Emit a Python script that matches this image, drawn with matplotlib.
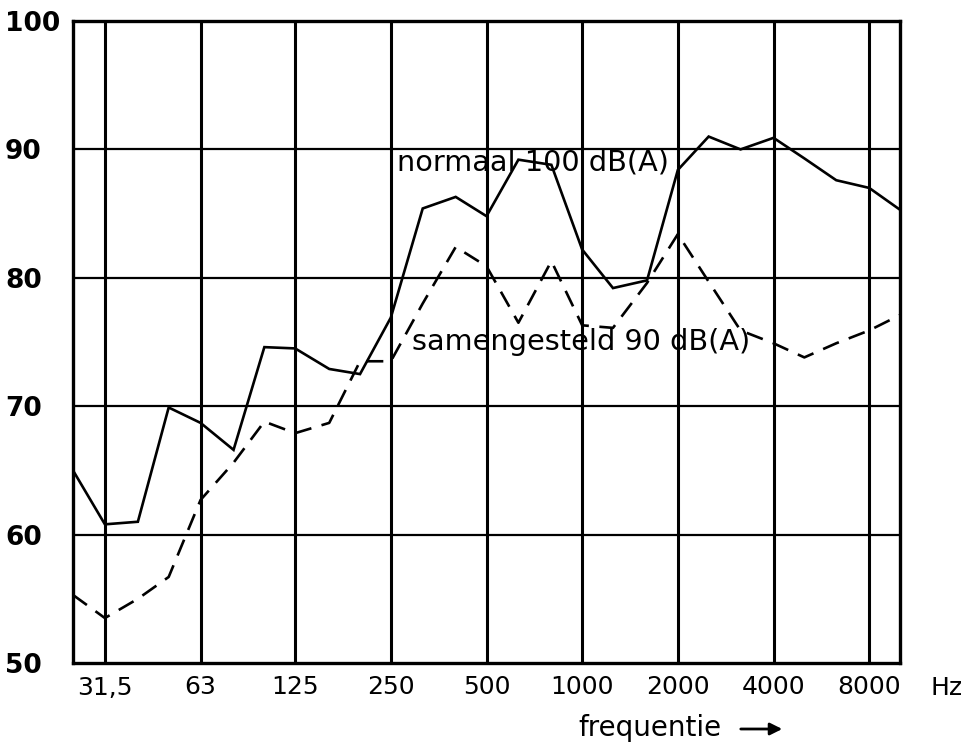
import matplotlib
matplotlib.use("Agg")
import matplotlib.pyplot as plt
import numpy as np

# third-octave band centre frequencies (Hz)
freqs = [25, 31.5, 40, 50, 63, 80, 100, 125, 160, 200, 250, 315, 400, 500,
         630, 800, 1000, 1250, 1600, 2000, 2500, 3150, 4000, 5000, 6300, 8000, 10000]

# normaal 100 dB(A) (solid)
normaal = [65.0, 60.8, 61.0, 69.9, 68.7, 66.6, 74.6, 74.5, 72.9, 72.5, 76.9,
           85.4, 86.3, 84.8, 89.2, 88.8, 82.2, 79.2, 79.8, 88.4, 91.0, 90.0,
           90.9, 89.3, 87.6, 87.0, 85.3]

# samengesteld 90 dB(A) (dashed)
samengesteld = [55.3, 53.5, 55.0, 56.7, 62.7, 65.6, 68.8, 67.9, 68.7, 73.5, 73.5,
                78.0, 82.4, 80.9, 76.5, 81.3, 76.3, 76.1, 79.6, 83.4, 79.7, 75.9,
                74.9, 73.8, 74.9, 75.9, 77.1]

octave_ticks = [31.5, 63, 125, 250, 500, 1000, 2000, 4000, 8000]
octave_labels = ["31,5", "63", "125", "250", "500", "1000", "2000", "4000", "8000"]
y_ticks = [50, 60, 70, 80, 90, 100]

plt.rcParams['font.family'] = ['DejaVu Sans']

fig = plt.figure(figsize=(9.72, 7.42), dpi=100)
ax = fig.add_axes([73/972, 1-663/742, (900-73)/972, (663-21)/742])

ax.set_xscale('log')
ax.set_xlim(25, 10000)
ax.set_ylim(50, 100)

# grid
for f in octave_ticks:
    ax.axvline(f, color='black', lw=2.2, zorder=1)
for y in y_ticks[1:-1]:
    ax.axhline(y, color='black', lw=1.6, zorder=1)

ax.plot(freqs, normaal, color='black', lw=1.9, zorder=3, solid_joinstyle='miter')
ax.plot(freqs, samengesteld, color='black', lw=1.9, zorder=3,
        linestyle=(0, (6.5, 4)))

for s in ax.spines.values():
    s.set_linewidth(2.4)
    s.set_color('black')

ax.set_xticks(octave_ticks)
ax.set_xticklabels(octave_labels)
ax.xaxis.set_minor_locator(matplotlib.ticker.NullLocator())
ax.tick_params(axis='x', length=0, pad=9, labelsize=18)

ax.set_yticks(y_ticks)
ax.set_yticklabels([str(v) for v in y_ticks])
ax.tick_params(axis='y', length=0, pad=49, labelsize=19)
for lab in ax.get_yticklabels():
    lab.set_horizontalalignment('left')
    lab.set_fontweight('bold')

ax.text(261, 89.0, "normaal 100 dB(A)", fontsize=20.7, va='center', ha='left', zorder=4)
ax.text(291, 75.0, "samengesteld 90 dB(A)", fontsize=20.7, va='center', ha='left', zorder=4)

fig.text(930/972, 1-688/742, "Hz", fontsize=18, va='center', ha='left')
fig.text(578/972, 1-728/742, "frequentie", fontsize=20, va='center', ha='left')
fig.add_artist(matplotlib.patches.FancyArrowPatch(
    (738/972, 1-729/742), (785/972, 1-729/742), transform=fig.transFigure,
    arrowstyle='-|>', mutation_scale=18, color='black', lw=2))

fig.savefig("out.png", dpi=100)
